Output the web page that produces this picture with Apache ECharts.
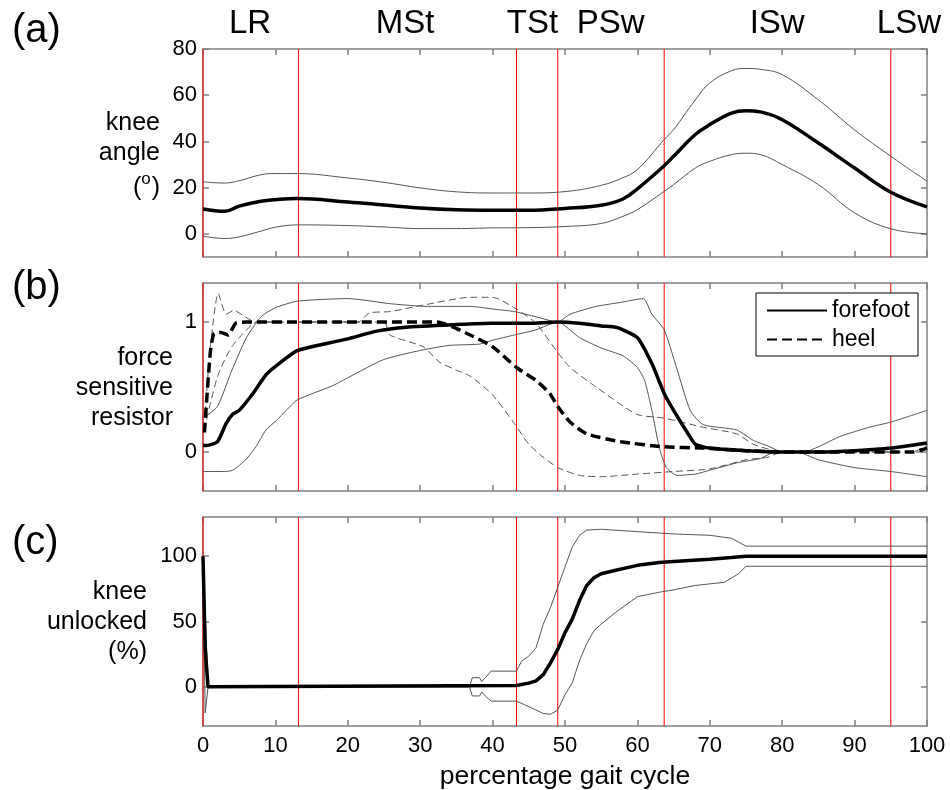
<!DOCTYPE html>
<html>
<head>
<meta charset="utf-8">
<script src="https://cdn.jsdelivr.net/npm/echarts@6/dist/echarts.min.js"></script>
<style>
html, body { margin: 0; padding: 0; background: #fff; }
#main { width: 950px; height: 790px; }
</style>
</head>
<body>
<div id="main"></div>
<script>
// gait phase boundaries (% gait cycle) and phase names
var phaseLines = [0, 13.2, 43.3, 49, 63.7, 95];
var phaseNames = ['LR', 'MSt', 'TSt', 'PSw', 'ISw', 'LSw'];
var phaseLabelX = [6.5, 27.9, 45.5, 56.3, 79.3, 97.5];

// tick labels
var angleTicks = [0, 20, 40, 60, 80];
var fsrTicks = [0, 1];
var unlockTicks = [0, 50, 100];

// (a) knee angle, mean and +/- sd
var angleX    = [0, 3, 5, 8, 10, 13, 20, 25, 30, 35, 40, 45, 50, 55, 58, 60, 63.7, 65, 68, 70, 73, 75, 77, 80, 85, 90, 95, 100];
var angleMean = [10.8, 9.8, 12, 14.1, 14.8, 15.3, 13.8, 12.5, 11.2, 10.4, 10.2, 10.2, 11, 12.4, 15.1, 19.5, 29.5, 33.6, 43, 47.3, 52.3, 53.3, 52.8, 49.4, 39.3, 28.5, 18, 11.7];
var angleUp   = [22.5, 22, 23, 25.6, 26.1, 26.1, 24.2, 22.3, 19.9, 18.2, 17.7, 17.7, 18.3, 21, 24.3, 27.8, 40.8, 45.1, 58, 65.3, 70.6, 71.6, 71.2, 68.9, 58, 45, 33.6, 22.8];
var angleLo   = [-1, -2, -1.3, 1.2, 2.9, 3.9, 3.6, 3, 2.3, 2.3, 2.6, 2.7, 3.2, 4.5, 7.6, 10.5, 18.4, 21.3, 28.5, 31.4, 34.3, 34.9, 34.3, 30, 21.3, 9.1, 2.2, 0];

// (b) force sensitive resistor - forefoot
var ffX    = [0, 0.5, 2, 3.2, 4.1, 5, 6.9, 8.8, 11.2, 13, 15, 20, 24, 28, 35, 40, 45, 49, 52, 55, 57, 58, 60, 62, 63.7, 65, 67, 68, 70, 75, 80, 85, 90, 95, 100];
var ffMean = [0.05, 0.05, 0.08, 0.22, 0.29, 0.32, 0.45, 0.60, 0.71, 0.78, 0.81, 0.87, 0.93, 0.96, 0.98, 0.99, 0.99, 1.0, 0.99, 0.97, 0.96, 0.94, 0.88, 0.68, 0.45, 0.32, 0.14, 0.06, 0.03, 0.01, 0, 0, 0.01, 0.03, 0.07];
var ffUpX  = [0.3, 2, 4, 6, 8, 10, 13, 20, 26, 31, 37, 40, 43, 46, 49, 50.7, 54.3, 57.6, 60.8, 62, 63.7, 65.4, 67.3, 69.1, 73.7, 76, 78.3, 80, 83, 85, 88, 92, 95, 100];
var ffUp   = [0.27, 0.35, 0.63, 0.88, 1.04, 1.11, 1.16, 1.18, 1.14, 1.12, 1.12, 1.10, 1.08, 1.04, 1.0, 1.06, 1.12, 1.15, 1.18, 1.06, 0.94, 0.65, 0.32, 0.21, 0.17, 0.09, 0.04, 0, 0, 0.04, 0.12, 0.19, 0.23, 0.32];
var ffLoX  = [0, 3, 4.1, 5.9, 7.3, 8.7, 10.1, 11.5, 13, 17.9, 20.3, 24.9, 29.9, 34, 38.2, 40, 43, 46, 49, 52, 55, 58, 60, 61, 62, 63, 64, 65.5, 68, 70, 74, 77, 79, 82, 85, 90, 95, 100];
var ffLo   = [-0.15, -0.15, -0.14, -0.06, 0.04, 0.17, 0.24, 0.32, 0.40, 0.51, 0.58, 0.71, 0.78, 0.82, 0.83, 0.86, 0.90, 0.94, 1.0, 0.88, 0.80, 0.74, 0.65, 0.55, 0.32, 0.04, -0.12, -0.18, -0.17, -0.14, -0.08, -0.05, 0, 0, -0.06, -0.12, -0.15, -0.19];

// (b) force sensitive resistor - heel
var hMeanX = [0.2, 1, 1.5, 2.5, 3.5, 4.5, 6, 20, 32.3, 35, 36.9, 40, 43.3, 46, 47.9, 49, 50.7, 53, 57.6, 63.7, 69.1, 75, 80, 90, 98, 100];
var hMean  = [0.15, 0.76, 0.91, 0.92, 0.90, 0.99, 1.0, 1.0, 1.0, 0.95, 0.9, 0.81, 0.65, 0.55, 0.45, 0.35, 0.23, 0.14, 0.08, 0.04, 0.03, 0.01, 0, 0, 0, 0.03];
var hUpX   = [0.3, 1, 2.1, 3.2, 4.3, 5.5, 7.3, 21.4, 23, 25.8, 30.4, 36.9, 40, 43.3, 46, 48.8, 50.7, 54.3, 59.9, 63.7, 69.1, 73.7, 76, 80, 98, 100];
var hUp    = [0.3, 0.8, 1.22, 1.06, 1.09, 1.05, 1.0, 1.0, 1.07, 1.08, 1.13, 1.19, 1.19, 1.10, 0.99, 0.78, 0.65, 0.5, 0.29, 0.26, 0.19, 0.14, 0.06, 0, 0, 0.05];
var hLoX   = [0.5, 1, 2, 3, 4, 5, 7, 8, 25, 25.8, 30.4, 32.7, 35, 37, 40, 43, 45, 47, 49, 52, 55, 60, 65, 70, 75, 78, 80, 100];
var hLo    = [0.25, 0.37, 0.58, 0.71, 0.81, 0.88, 0.99, 1.0, 1.0, 0.9, 0.81, 0.69, 0.63, 0.58, 0.44, 0.22, 0.06, -0.04, -0.12, -0.18, -0.19, -0.17, -0.15, -0.13, -0.06, -0.04, 0, 0];

// (c) knee unlocked (%)
var cMeanX = [0, 0.3, 0.7, 43.3, 45, 46, 47, 48, 49, 50, 51, 52, 53, 54, 55, 57, 60, 63, 65, 70, 73, 75, 100];
var cMean  = [100, 30, 0, 1, 2.8, 4.6, 9.3, 18.3, 28.6, 41.5, 51.8, 66, 77.6, 83.5, 86.6, 89.2, 93, 95.1, 95.9, 97.7, 99, 100, 100];
var cUpX   = [0, 0.3, 0.7, 36.8, 37.2, 38.2, 38.5, 39, 39.8, 43.3, 44, 45, 46, 47, 48, 49, 50, 51, 52, 53, 55, 60, 65, 70, 73, 75, 100];
var cUp    = [100, 58, 0, 0, 7, 7, 4, 7, 12, 12, 19.6, 23.5, 29.9, 48, 60.8, 76.3, 91.8, 107, 116, 120, 120.6, 118.8, 117, 116, 113.7, 107.7, 107.7];
var cLoX   = [0, 0.3, 0.7, 36.8, 37.2, 38.2, 38.5, 39, 39.8, 43.3, 45, 47, 48, 49, 50, 51, 52, 53, 54, 55, 57, 60, 63, 65, 68, 72, 74, 75, 100];
var cLo    = [100, -20, 0, 0, -7, -7, -4, -7, -11, -11, -15.2, -20.4, -21, -17.8, -6, 3, 20, 33, 43, 48, 57, 69, 72.4, 74.2, 77.6, 80, 86.6, 92.3, 92.3];

var FONT = "'Liberation Sans', Arial, sans-serif";
var AXIS_GREY = '#808080';

var grids = [
    {left: 203, right: 23, top: 49, height: 208},
    {left: 203, right: 23, top: 283, height: 208},
    {left: 203, right: 23, top: 517, height: 209}
];
var yRanges = [[-10, 80], [-0.3, 1.3], [-30, 130]];
var yTicks = [angleTicks, fsrTicks, unlockTicks];

function zip(xs, ys) {
    return xs.map(function (x, i) { return [x, ys[i]]; });
}

var xAxes = [], yAxes = [];
grids.forEach(function (g, i) {
    var last = i == grids.length - 1;
    ['bottom', 'top'].forEach(function (pos) {
        xAxes.push({
            type: 'value', gridIndex: i, position: pos, min: 0, max: 100, interval: 10,
            axisLine: {onZero: false, lineStyle: {color: AXIS_GREY, width: 1.5}},
            axisTick: {inside: true, length: 6, lineStyle: {color: AXIS_GREY, width: 1.5}},
            axisLabel: {show: last && pos == 'bottom', margin: 9, color: '#000', fontSize: 22, fontFamily: FONT},
            splitLine: {show: false},
            name: last && pos == 'bottom' ? 'percentage gait cycle' : '',
            nameLocation: 'middle', nameGap: 37,
            nameTextStyle: {color: '#000', fontSize: 26.5, fontFamily: FONT}
        });
    });
    ['left', 'right'].forEach(function (pos) {
        yAxes.push({
            type: 'value', gridIndex: i, position: pos, min: yRanges[i][0], max: yRanges[i][1],
            axisLine: {onZero: false, lineStyle: {color: AXIS_GREY, width: 1.5}},
            axisTick: {inside: true, length: 6, customValues: yTicks[i], lineStyle: {color: AXIS_GREY, width: 1.5}},
            axisLabel: {show: pos == 'left', customValues: yTicks[i], margin: 6, color: '#000', fontSize: 22, fontFamily: FONT},
            splitLine: {show: false}
        });
    });
});

function curve(name, xs, ys, gi, width, dash, color, smooth) {
    return {
        name: name, type: 'line', xAxisIndex: gi * 2, yAxisIndex: gi * 2,
        data: zip(xs, ys), symbol: 'none', showSymbol: false,
        smooth: smooth, animation: false, silent: true, z: 3,
        itemStyle: {color: color},
        lineStyle: {color: color, width: width, type: dash}
    };
}

// red vertical phase lines, one small series per line per panel
function phaseSeries(gi) {
    return phaseLines.map(function (v) {
        return {
            name: 'phase', type: 'line', xAxisIndex: gi * 2, yAxisIndex: gi * 2,
            data: [[v, yRanges[gi][0]], [v, yRanges[gi][1]]],
            symbol: 'none', silent: true, animation: false, z: 2, clip: false,
            itemStyle: {color: '#ff0000'},
            lineStyle: {color: '#ff0000', width: 1, type: 'solid'}
        };
    });
}

var thin = '#555';
var series = [].concat(
    phaseSeries(0), phaseSeries(1), phaseSeries(2),
    [
        curve('angle sd+', angleX, angleUp, 0, 1, 'solid', thin, 0.4),
        curve('angle sd-', angleX, angleLo, 0, 1, 'solid', thin, 0.4),
        curve('angle', angleX, angleMean, 0, 3.5, 'solid', '#000', 0.4),

        curve('forefoot sd+', ffUpX, ffUp, 1, 1, 'solid', thin, 0.2),
        curve('forefoot sd-', ffLoX, ffLo, 1, 1, 'solid', thin, 0.2),
        curve('heel sd+', hUpX, hUp, 1, 1, [7, 4], thin, 0.2),
        curve('heel sd-', hLoX, hLo, 1, 1, [7, 4], thin, 0.2),
        curve('forefoot', ffX, ffMean, 1, 3.5, 'solid', '#000', 0.2),
        curve('heel', hMeanX, hMean, 1, 3.5, [10, 5], '#000', 0.2),

        curve('unlock sd+', cUpX, cUp, 2, 1, 'solid', thin, false),
        curve('unlock sd-', cLoX, cLo, 2, 1, 'solid', thin, false),
        curve('unlock', cMeanX, cMean, 2, 3.5, 'solid', '#000', false)
    ]
);

var myChart = echarts.init(document.getElementById('main'), null, {renderer: 'canvas'});

var option = {
    backgroundColor: '#fff',
    animation: false,
    grid: grids.map(function (g) { return Object.assign({outerBoundsMode: 'none', containLabel: false}, g); }),
    xAxis: xAxes,
    yAxis: yAxes,
    legend: {
        data: ['forefoot', 'heel'],
        orient: 'vertical', left: 756, top: 293,
        backgroundColor: '#fff', borderColor: '#000', borderWidth: 1,
        padding: [6, 8, 5, 10], itemGap: 6, itemWidth: 60, itemHeight: 4,
        itemStyle: {opacity: 0},
        textStyle: {color: '#000', fontSize: 23, fontFamily: FONT}
    },
    series: series
};
myChart.setOption(option);

// text around the panels
var nameStyle = {font: '25px ' + FONT, lineHeight: 30, align: 'right', verticalAlign: 'middle', fill: '#000'};
function txt(x, y, s, size, align) {
    return {type: 'text', x: x, y: y, style: {text: s, font: size + 'px ' + FONT, align: align, verticalAlign: 'middle', fill: '#000'}};
}
var labels = [
    {type: 'text', left: 12, top: 11, style: {text: '(a)', font: '40px ' + FONT, fill: '#000'}},
    {type: 'text', left: 12, top: 268, style: {text: '(b)', font: '40px ' + FONT, fill: '#000'}},
    {type: 'text', left: 12, top: 523, style: {text: '(c)', font: '40px ' + FONT, fill: '#000'}},
    {type: 'text', x: 160, y: 138, style: Object.assign({text: 'knee\nangle'}, nameStyle)},
    txt(133, 188, '(', 25, 'left'),
    txt(160, 188, ')', 25, 'right'),
    txt(146, 179, 'o', 17, 'center'),
    {type: 'text', x: 173, y: 388, style: Object.assign({text: 'force\nsensitive\nresistor'}, nameStyle)},
    {type: 'text', x: 147, y: 622, style: Object.assign({text: 'knee\nunlocked\n(%)'}, nameStyle)}
];
phaseNames.forEach(function (n, i) {
    var px = myChart.convertToPixel({xAxisIndex: 0}, phaseLabelX[i]);
    labels.push(txt(px, 24, n, 33, 'center'));
});
myChart.setOption({graphic: labels});
window.onresize = myChart.resize;
</script>
</body>
</html>
